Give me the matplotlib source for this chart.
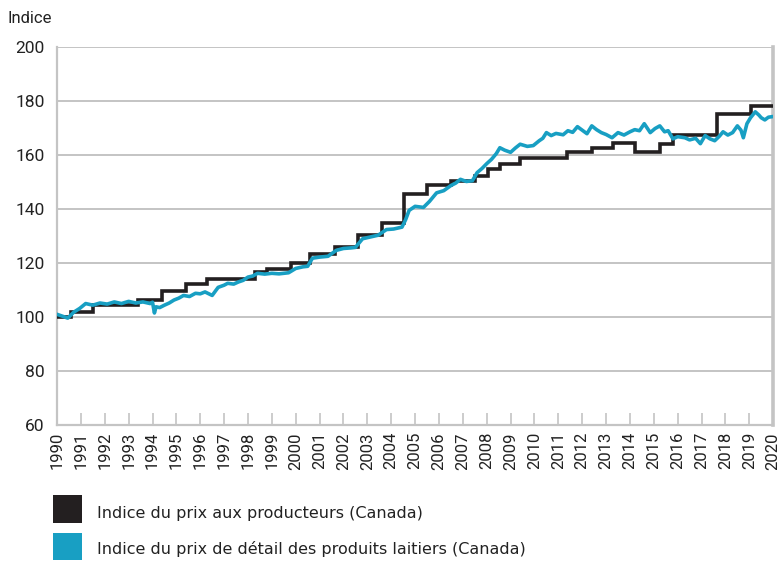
import matplotlib
matplotlib.use("Agg")
import matplotlib.pyplot as plt
from matplotlib.patches import Rectangle

# Indice du prix aux producteurs: dates of change and new level (step series)
prod_dates = [1990.0, 1990.6, 1991.5, 1993.4, 1994.4, 1995.4, 1996.3, 1998.3,
              1998.8, 1999.8, 2000.6, 2001.65, 2002.6, 2003.6, 2004.55, 2005.5,
              2006.5, 2007.5, 2008.05, 2008.55, 2009.4, 2011.35, 2012.4, 2013.3,
              2014.2, 2015.25, 2015.8, 2017.65, 2019.05, 2020.0]
prod_values = [100.0, 101.8, 104.6, 106.3, 109.6, 112.2, 114.0, 116.6,
               117.7, 120.2, 123.4, 125.8, 130.5, 134.8, 145.5, 149.0,
               150.5, 152.4, 155.0, 156.5, 159.0, 161.3, 162.7, 164.6,
               161.3, 164.0, 167.6, 175.3, 178.0, 178.0]

# Indice du prix de detail des produits laitiers
retail_dates = [1990.0, 1990.2, 1990.45, 1990.7, 1990.95, 1991.2, 1991.5, 1991.8,
                1992.1, 1992.4, 1992.7, 1993.0, 1993.3, 1993.6, 1993.9, 1994.0,
                1994.08, 1994.15, 1994.3, 1994.5, 1994.7, 1994.9, 1995.1, 1995.3,
                1995.55, 1995.8, 1996.0, 1996.2, 1996.5, 1996.75, 1997.0, 1997.15,
                1997.4, 1997.6, 1997.8, 1998.0, 1998.2, 1998.4, 1998.7, 1999.0,
                1999.3, 1999.7, 2000.0, 2000.3, 2000.5, 2000.7, 2001.0, 2001.35,
                2001.7, 2002.0, 2002.3, 2002.5, 2002.8, 2003.1, 2003.45, 2003.8,
                2004.1, 2004.45, 2004.6, 2004.75, 2005.0, 2005.35, 2005.6, 2005.9,
                2006.2, 2006.5, 2006.7, 2006.9, 2007.15, 2007.4, 2007.6, 2007.8,
                2008.0, 2008.2, 2008.4, 2008.55, 2008.75, 2009.0, 2009.2, 2009.4,
                2009.7, 2009.95, 2010.2, 2010.35, 2010.5, 2010.7, 2010.9, 2011.2,
                2011.4, 2011.6, 2011.8, 2012.0, 2012.2, 2012.4, 2012.6, 2012.8,
                2013.0, 2013.25, 2013.5, 2013.75, 2014.0, 2014.2, 2014.4, 2014.6,
                2014.85, 2015.05, 2015.25, 2015.45, 2015.6, 2015.8, 2016.0, 2016.3,
                2016.5, 2016.75, 2016.95, 2017.15, 2017.35, 2017.55, 2017.75, 2017.9,
                2018.1, 2018.3, 2018.5, 2018.65, 2018.75, 2018.9, 2019.05, 2019.25,
                2019.4, 2019.5, 2019.65, 2019.8, 2019.95]
retail_values = [101.0, 100.4, 99.6, 101.8, 103.2, 105.0, 104.4, 105.2,
                 104.8, 105.6, 105.0, 105.8, 105.2, 105.6, 105.0, 105.5,
                 101.5, 103.8, 103.5, 104.4, 105.2, 106.3, 107.0, 108.0,
                 107.6, 108.8, 108.6, 109.3, 108.0, 111.0, 111.8, 112.5,
                 112.2, 113.0, 113.6, 114.8, 115.2, 116.2, 115.9, 116.2,
                 116.0, 116.4, 118.0, 118.6, 118.8, 121.8, 122.2, 122.5,
                 124.7, 125.4, 125.6, 125.8, 129.0, 129.6, 130.3, 132.4,
                 132.6, 133.3, 136.0, 139.5, 141.0, 140.6, 142.8, 146.0,
                 146.8, 148.7, 149.6, 151.0, 150.2, 150.5, 153.5, 155.0,
                 156.8, 158.4, 160.5, 162.7, 161.8, 161.0, 162.6, 164.0,
                 163.2, 163.5, 165.3, 166.2, 168.3, 167.2, 168.0, 167.5,
                 169.0, 168.4, 170.5, 169.2, 167.9, 170.8, 169.4, 168.3,
                 167.6, 166.4, 168.3, 167.4, 168.6, 169.4, 169.0, 171.6,
                 168.3, 169.8, 170.8, 168.6, 169.0, 166.0, 166.8, 166.4,
                 165.6, 166.2, 164.2, 167.2, 166.0, 165.3, 167.0, 168.6,
                 167.4, 168.3, 170.8, 169.2, 166.4, 171.6, 173.8, 176.0,
                 174.8, 173.8, 173.0, 174.0, 174.2]

years = list(range(1990, 2021))
yticks = [60, 80, 100, 120, 140, 160, 180, 200]

black = "#231f20"
blue = "#189fc3"
grey = "#c4c4c4"
txt = "#222222"
narrow = ["Roboto", "DejaVu Sans"]

fig = plt.figure(figsize=(7.81, 5.63), dpi=100)
ax = fig.add_axes([0.073, 0.245, 0.917, 0.6715])

ax.plot(prod_dates, prod_values, drawstyle="steps-post", color=black, lw=2.6,
        solid_joinstyle="miter", zorder=3)
ax.plot(retail_dates, retail_values, color=blue, lw=2.6, zorder=4)

ax.set_xlim(1990, 2020)
ax.set_ylim(60, 200)
ax.set_yticks(yticks)
ax.set_xticks(years)
ax.set_xticklabels([str(y) for y in years], rotation=90, fontsize=12,
                   family=narrow, color=txt)
ax.set_yticklabels([str(v) for v in yticks], fontsize=12.5, family=narrow,
                   color=txt)
ax.grid(axis="y", color=grey, lw=1.4)
ax.set_axisbelow(True)
ax.tick_params(axis="x", direction="in", length=9, width=1.2, color=grey, pad=5)
ax.tick_params(axis="y", length=0, pad=9)
for side in ["left", "bottom", "right"]:
    ax.spines[side].set_color(grey)
    ax.spines[side].set_linewidth(1.6)
ax.spines["right"].set_linewidth(2.6)
ax.spines["top"].set_visible(False)

fig.text(0.010, 0.968, "Indice", fontsize=12, family=narrow, color=txt,
         ha="left", va="center")

# legend
fig.patches.append(Rectangle((0.068, 0.071), 0.037, 0.049, transform=fig.transFigure,
                             facecolor=black, edgecolor="none"))
fig.patches.append(Rectangle((0.068, 0.005), 0.037, 0.048, transform=fig.transFigure,
                             facecolor=blue, edgecolor="none"))
fig.text(0.124, 0.088, "Indice du prix aux producteurs (Canada)", fontsize=11.5,
         color=txt, va="center")
fig.text(0.124, 0.025, "Indice du prix de détail des produits laitiers (Canada)",
         fontsize=11.5, color=txt, va="center")

fig.savefig("out.png", dpi=100, facecolor="white")
